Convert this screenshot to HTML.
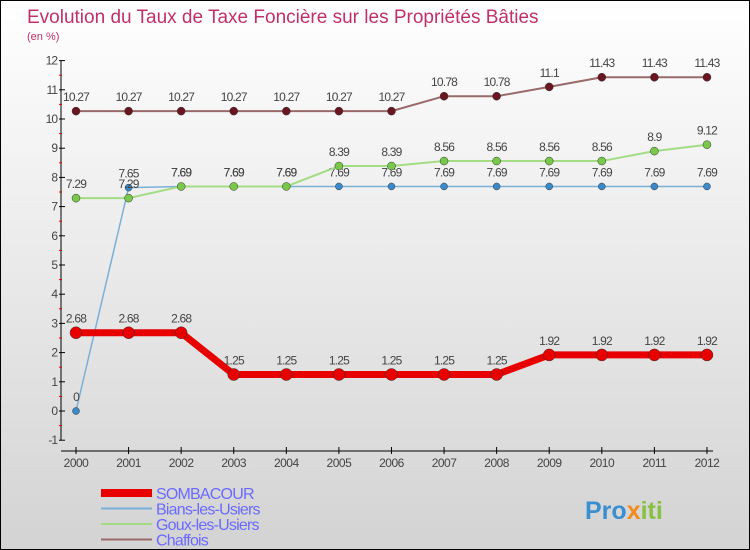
<!DOCTYPE html>
<html><head><meta charset="utf-8"><style>
body{margin:0}
#c{width:748px;height:548px;border:1px solid #000;background:linear-gradient(#fff,#d3d3d3);position:relative;font-family:"Liberation Sans",sans-serif;overflow:hidden}
svg{position:absolute;left:0;top:0}
</style></head><body>
<div id="c">
<svg id="s" width="750" height="550">
<text x="26" y="22" font-size="19" fill="#c0306a">Evolution du Taux de Taxe Foncière sur les Propriétés Bâties</text>
<text x="26" y="39" font-size="11" fill="#c0306a">(en %)</text>
<text x="584" y="518" font-size="25" font-weight="bold" fill="#3a8fd0">Pro<tspan fill="#f28c1e">x</tspan><tspan fill="#88c040">iti</tspan></text>
</svg>
</div>
<script>
const years=[2000,2001,2002,2003,2004,2005,2006,2007,2008,2009,2010,2011,2012];
const yTicks=[-1,0,1,2,3,4,5,6,7,8,9,10,11,12];
const sombacour=[2.68,2.68,2.68,1.25,1.25,1.25,1.25,1.25,1.25,1.92,1.92,1.92,1.92];
const bians=[0,7.65,7.69,7.69,7.69,7.69,7.69,7.69,7.69,7.69,7.69,7.69,7.69];
const goux=[7.29,7.29,7.69,7.69,7.69,8.39,8.39,8.56,8.56,8.56,8.56,8.9,9.12];
const chaffois=[10.27,10.27,10.27,10.27,10.27,10.27,10.27,10.78,10.78,11.1,11.43,11.43,11.43];
const NS="http://www.w3.org/2000/svg",s=document.getElementById('s');
const X=i=>75+i*52.58, Y=v=>410-v*29.2;
function el(t,a,p){const e=document.createElementNS(NS,t);for(const k in a)e.setAttribute(k,a[k]);(p||s).appendChild(e);return e;}
const ax=el('g',{});


el('line',{x1:60,y1:Y(12),x2:60,y2:Y(-1),stroke:'#000'},ax);
el('line',{x1:60,y1:450,x2:712,y2:450,stroke:'#000'},ax);
yTicks.forEach(v=>{
 el('line',{x1:58,y1:Y(v),x2:64,y2:Y(v),stroke:'#000'},ax);
 if(v<12)el('line',{x1:58,y1:Y(v+0.5),x2:61,y2:Y(v+0.5),stroke:'#e00'},ax);
 const t=el('text',{x:56,y:Y(v)+4,'text-anchor':'end','font-size':12,fill:'#444','letter-spacing':'-1'},ax);
 
 
 t.textContent=v;
});
years.forEach((y,i)=>{
 el('line',{x1:X(i),y1:446,x2:X(i),y2:453,stroke:'#000'},ax);
 const t=el('text',{x:X(i),y:466,'text-anchor':'middle','font-size':12,fill:'#444','letter-spacing':'-0.5'},ax);
 
 
 t.textContent=y;
});
function series(name,data,color,w,r,dark){
 const g=el('g',{});
 
 
 el('polyline',{points:data.map((v,i)=>X(i)+','+Y(v)).join(' '),fill:'none',stroke:color,'stroke-width':w,'stroke-linejoin':'round'},g);
 data.forEach((v,i)=>{
  const c=el('circle',{cx:X(i),cy:Y(v),r:r,fill:dark,stroke:'#333','stroke-width':0.5},g);
  
  
  const t=el('text',{x:X(i),y:Y(v)-10,'text-anchor':'middle','font-size':12,fill:'#444','letter-spacing':'-0.8'},g);
  
  
  t.textContent=v;
 });
}
series('chaffois',chaffois,'#9a6a6a',2,4,'#6b1520');
series('bians',bians,'#7ab0d8',1.5,3.5,'#3a8acb');
series('goux',goux,'#a3dc84',2,4,'#78c84a');
series('sombacour',sombacour,'#e80000',7,6,'#e80000');
const leg=[['SOMBACOUR','#e80000',8],['Bians-les-Usiers','#7ab0d8',2],['Goux-les-Usiers','#a3dc84',2],['Chaffois','#9a6a6a',2]];
leg.forEach((l,i)=>{
 const g=el('g',{});
 
 
 const y=492+i*15.5;
 el('line',{x1:100,y1:y,x2:151,y2:y,stroke:l[1],'stroke-width':l[2]},g);
 const t=el('text',{x:155,y:y+6,'font-size':16,fill:'#6a6aff','letter-spacing':'-0.8'},g);
 t.textContent=l[0];
});
</script>
</body></html>
